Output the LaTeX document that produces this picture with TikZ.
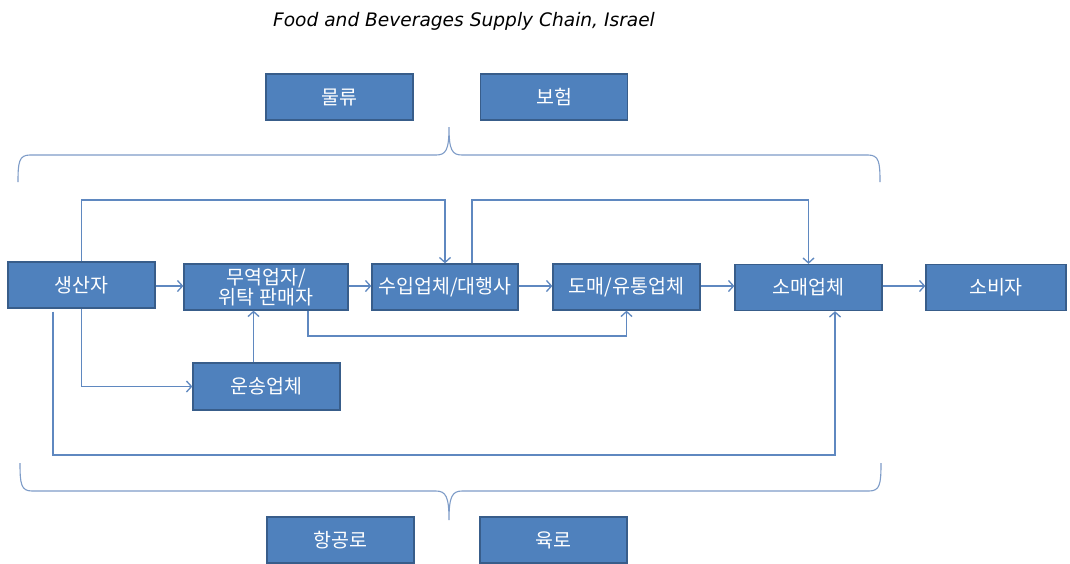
\documentclass[tikz,border=0pt]{standalone}
\usepackage{fontspec}
\setmainfont{DejaVu Sans}
\newfontfamily\kr{Noto Sans CJK KR}
\newfontfamily\titlefont{DejaVu Sans}
\usetikzlibrary{arrows.meta,calc}
\definecolor{boxfill}{HTML}{4F81BD}
\definecolor{boxline}{HTML}{385D8A}
\definecolor{conn}{HTML}{5F88C0}
\definecolor{bracec}{HTML}{7E9CC8}
\tikzset{
  box/.style={draw=boxline, fill=boxfill, line width=1.3pt, text=white,
    minimum height=46pt, inner sep=0pt, align=center,
    font=\kr\fontsize{19.5}{20}\selectfont},
  arr/.style={draw=conn, line width=1.4pt, -{Straight Barb[length=5pt,width=11pt,line width=1.3pt]}},
  bracepath/.style={draw=bracec, line width=1.1pt},
}
\begin{document}
\begin{tikzpicture}[x=1pt,y=-1pt]
\useasboundingbox (0,0) rectangle (1070,563);
\fill[white] (0,0) rectangle (1070,563);

\node (title) at (464,21) {\titlefont\itshape\fontsize{18.6}{20}\selectfont Food and Beverages Supply Chain, Israel};

\node[box, minimum width=147pt] (mulryu) at (339.5,97) {물류};
\node[box, minimum width=147pt] (boheom) at (554,97) {보험};

\node[box, minimum width=147pt] (saengsan) at (81.5,285) {생산자};
\node[box, minimum width=164pt] (muyeok) at (266,287) {무역업자/\\위탁 판매자};
\node[box, minimum width=146pt] (suip) at (445,287) {수입업체/대행사};
\node[box, minimum width=147pt] (domae) at (626.5,287) {도매/유통업체};
\node[box, minimum width=147pt] (somae) at (808.5,287.5) {소매업체};
\node[box, minimum width=140pt] (sobija) at (996,287.5) {소비자};
\node[box, minimum width=147pt, minimum height=47pt] (unsong) at (266.5,386.5) {운송업체};

\node[box, minimum width=147pt] (hanggong) at (340.5,540) {항공로};
\node[box, minimum width=147pt] (yukro) at (553.5,540) {육로};

% braces
\draw[bracepath] (18,182) .. controls (18,162) and (19,155) .. (30,155) -- (436,155)
  .. controls (446,155) and (449,150) .. (449,127)
  .. controls (449,150) and (452,155) .. (462,155) -- (868,155)
  .. controls (879,155) and (880,162) .. (880,182);
\draw[bracepath] (20,463) .. controls (20,484) and (21,491) .. (32,491) -- (436,491)
  .. controls (446,491) and (449,497) .. (449,520)
  .. controls (449,497) and (452,491) .. (462,491) -- (869,491)
  .. controls (880,491) and (881,484) .. (881,463);

% main chain
\draw[arr] (saengsan.east |- 0,286) -- (muyeok.west |- 0,286);
\draw[arr] (muyeok.east |- 0,286) -- (suip.west |- 0,286);
\draw[arr] (suip.east |- 0,286) -- (domae.west |- 0,286);
\draw[arr] (domae.east |- 0,286) -- (somae.west |- 0,286);
\draw[arr] (somae.east |- 0,286) -- (sobija.west |- 0,286);

% top routes
\coordinate (topy) at (0,200);
\draw[arr] (saengsan.north) -- (saengsan.north |- topy) -| (suip.north);
\coordinate (suipr) at ([xshift=27pt]suip.north);
\draw[arr] (suipr) |- (topy -| somae.north) -- (somae.north);

% muyeok to domae
\coordinate (midy) at (0,336);
\coordinate (muyeokb) at ([xshift=42pt]muyeok.south);
\draw[arr] (muyeokb) |- (midy -| domae.south) -- (domae.south);

% unsong to muyeok
\coordinate (unsongt) at ([xshift=-13pt]unsong.north);
\draw[arr] (unsongt) -- (unsongt |- muyeok.south);

% saengsan to unsong
\draw[arr] (saengsan.south) |- (unsong.west);

% saengsan to somae (bottom)
\coordinate (boty) at (0,455);
\coordinate (saengb) at ([xshift=-28.5pt,yshift=-3pt]saengsan.south);
\coordinate (somaeb) at ([xshift=26.5pt]somae.south);
\draw[arr] (saengb) |- (boty -| somaeb) -- (somaeb);
\end{tikzpicture}
\end{document}
